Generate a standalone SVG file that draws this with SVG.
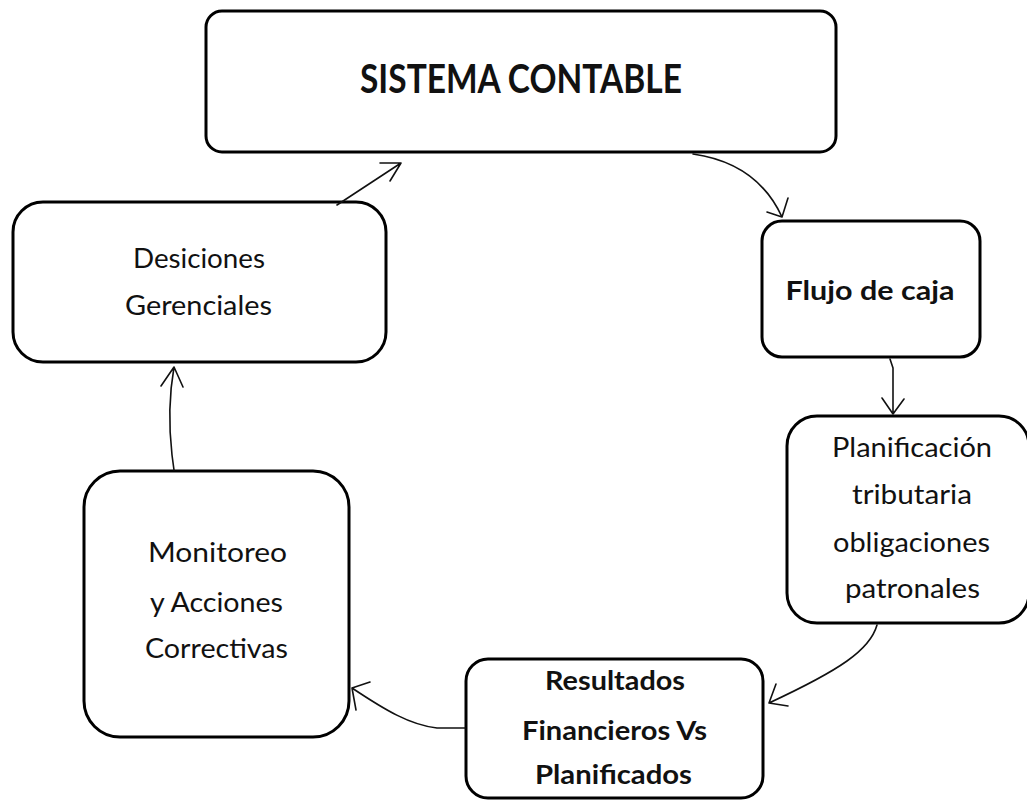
<svg xmlns="http://www.w3.org/2000/svg" width="1027" height="801" viewBox="0 0 1027 801">
<defs>
<style>
.box{fill:#fff;stroke:#000;stroke-width:3}
.t{font-family:Lato,"Open Sans",sans-serif;font-size:26px;fill:#111;text-anchor:middle}
.b{font-weight:bold}
.c{fill:none;stroke:#111;stroke-width:1.6;stroke-linecap:round;stroke-linejoin:round}
</style>
</defs>
<rect width="1027" height="801" fill="#fff"/>
<g id="sistema">
<rect class="box" x="206" y="11" width="630" height="141" rx="16"/>
<text class="t b" x="521" y="93" style="font-size:41px" textLength="322" lengthAdjust="spacingAndGlyphs">SISTEMA CONTABLE</text>
</g>
<g id="desiciones">
<rect class="box" x="13" y="202" width="373" height="160" rx="30"/>
<text class="t" x="199" y="268" textLength="132" lengthAdjust="spacingAndGlyphs">Desiciones</text>
<text class="t" x="198.5" y="315" textLength="147" lengthAdjust="spacingAndGlyphs">Gerenciales</text>
</g>
<g id="flujo">
<rect class="box" x="762" y="221" width="218" height="136" rx="20"/>
<text class="t b" x="870" y="300" style="font-size:27px" textLength="169" lengthAdjust="spacingAndGlyphs">Flujo de caja</text>
</g>
<g id="planificacion">
<rect class="box" x="787" y="416" width="242" height="207" rx="30"/>
<text class="t" x="912" y="457" textLength="160" lengthAdjust="spacingAndGlyphs">Planificación</text>
<text class="t" x="912" y="504" textLength="120" lengthAdjust="spacingAndGlyphs">tributaria</text>
<text class="t" x="911.5" y="552" textLength="157" lengthAdjust="spacingAndGlyphs">obligaciones</text>
<text class="t" x="912.5" y="598" textLength="135" lengthAdjust="spacingAndGlyphs">patronales</text>
</g>
<g id="resultados">
<rect class="box" x="466" y="659" width="297" height="139" rx="22"/>
<text class="t b" x="615" y="690" textLength="140" lengthAdjust="spacingAndGlyphs">Resultados</text>
<text class="t b" x="614.5" y="740" textLength="185" lengthAdjust="spacingAndGlyphs">Financieros Vs</text>
<text class="t b" x="613.5" y="784" textLength="157" lengthAdjust="spacingAndGlyphs">Planificados</text>
</g>
<g id="monitoreo">
<rect class="box" x="84" y="471" width="265" height="266" rx="36"/>
<text class="t" x="217.5" y="562" textLength="139" lengthAdjust="spacingAndGlyphs">Monitoreo</text>
<text class="t" x="216.5" y="612" textLength="133" lengthAdjust="spacingAndGlyphs">y Acciones</text>
<text class="t" x="216.5" y="658" textLength="143" lengthAdjust="spacingAndGlyphs">Correctivas</text>
</g>
<g id="connectors">
<path class="c" d="M337 205 L401 163 M380 163 L401 163 L390 181"/>
<path class="c" d="M693 154 C735 160 765 180 782 217 M767 212 L782 217 L788 198"/>
<path class="c" d="M890 359 L893 368 L893 414 M882 398 L893 414 L904 399"/>
<path class="c" d="M877 625 C870 650 840 670 769 703 M776 684 L769 703 L788 706"/>
<path class="c" d="M465 728 L437 728 C410 725 385 710 352 688 M370 682 L352 688 L356 710"/>
<path class="c" d="M174 470 L172 455 C168 420 170 390 174 367 M161 386 L174 367 L183 387"/>
</g>
</svg>
